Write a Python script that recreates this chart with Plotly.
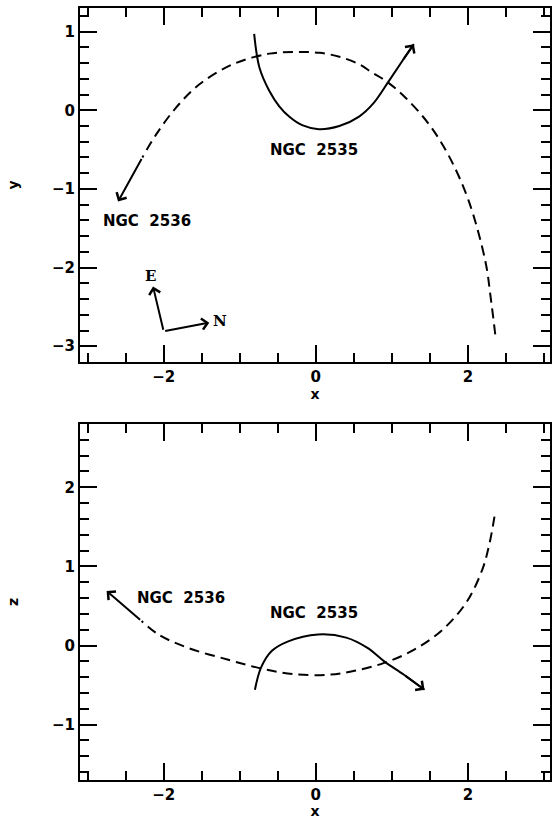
import plotly.graph_objects as go

# ---- orbit data (x, y) projection -------------------------------------------
n2535_xy_x = [-0.81, -0.74, -0.61, -0.48, -0.35, -0.18, 0.04, 0.31, 0.57, 0.76, 0.96, 1.14, 1.29]
n2535_xy_y = [0.97, 0.54, 0.245, 0.05, -0.08, -0.19, -0.24, -0.20, -0.08, 0.09, 0.37, 0.63, 0.84]

n2536_xy_x = [2.36, 2.30, 2.23, 2.01, 1.75, 1.49, 1.18, 0.94, 0.74, 0.57, 0.31, 0.05, -0.25,
              -0.61, -1.09, -1.53, -1.84, -2.10, -2.28]
n2536_xy_y = [-2.85, -2.38, -1.92, -1.15, -0.58, -0.18, 0.16, 0.36, 0.48, 0.585, 0.68, 0.73, 0.74,
              0.72, 0.585, 0.33, 0.03, -0.31, -0.60]

# ---- orbit data (x, z) projection -------------------------------------------
n2535_xz_x = [-0.80, -0.72, -0.58, -0.37, 0.03, 0.40, 0.68, 0.90, 1.16, 1.43]
n2535_xz_z = [-0.56, -0.28, -0.07, 0.05, 0.14, 0.10, -0.03, -0.20, -0.37, -0.56]

n2536_xz_x = [2.35, 2.28, 2.19, 1.99, 1.69, 1.30, 0.90, 0.51, 0.16, -0.30, -0.72, -1.15,
              -1.68, -2.07, -2.29]
n2536_xz_z = [1.63, 1.27, 0.96, 0.56, 0.22, -0.05, -0.22, -0.32, -0.37, -0.36, -0.29, -0.18,
              -0.03, 0.14, 0.31]

# final solid leg of NGC 2536 (tip) in each projection
n2536_xy_tip = (-2.60, -1.16)
n2536_xz_tip = (-2.75, 0.69)

# compass: origin, E tip, N tip
compass_origin = (-2.00, -2.81)
compass_e = (-2.14, -2.24)
compass_n = (-1.40, -2.70)

# labels
labels_xy = [("NGC\u00a0\u00a02535", -0.02, -0.50), ("NGC\u00a0\u00a02536", -2.22, -1.41)]
labels_xz = [("NGC\u00a0\u00a02535", -0.02, 0.41), ("NGC\u00a0\u00a02536", -1.77, 0.60)]

FONT = "DejaVu Sans"
INK = "black"

fig = go.Figure()

dash = "10px,6px"
fig.add_trace(go.Scatter(x=n2535_xy_x, y=n2535_xy_y, mode="lines", line=dict(color=INK, width=2, shape="spline"),
                         xaxis="x", yaxis="y"))
fig.add_trace(go.Scatter(x=n2536_xy_x, y=n2536_xy_y, mode="lines",
                         line=dict(color=INK, width=2, shape="spline", dash=dash), xaxis="x", yaxis="y"))
fig.add_trace(go.Scatter(x=n2535_xz_x, y=n2535_xz_z, mode="lines", line=dict(color=INK, width=2, shape="spline"),
                         xaxis="x2", yaxis="y2"))
fig.add_trace(go.Scatter(x=n2536_xz_x, y=n2536_xz_z, mode="lines",
                         line=dict(color=INK, width=2, shape="spline", dash=dash), xaxis="x2", yaxis="y2"))

ann = []


def arrow(x0, y0, x1, y1, xr, yr):
    ann.append(dict(x=x1, y=y1, ax=x0, ay=y0, xref=xr, yref=yr, axref=xr, ayref=yr,
                    text="", showarrow=True, arrowhead=4, arrowsize=1.1, arrowwidth=2,
                    arrowcolor=INK, standoff=0, startstandoff=0))


# arrowheads at the end of the NGC 2535 orbits
arrow(n2535_xy_x[-2], n2535_xy_y[-2], n2535_xy_x[-1], n2535_xy_y[-1], "x", "y")
arrow(n2535_xz_x[-2], n2535_xz_z[-2], n2535_xz_x[-1], n2535_xz_z[-1], "x2", "y2")
# solid final leg of NGC 2536
arrow(n2536_xy_x[-1], n2536_xy_y[-1], n2536_xy_tip[0], n2536_xy_tip[1], "x", "y")
arrow(n2536_xz_x[-1], n2536_xz_z[-1], n2536_xz_tip[0], n2536_xz_tip[1], "x2", "y2")
# compass
arrow(compass_origin[0], compass_origin[1], compass_e[0], compass_e[1], "x", "y")
arrow(compass_origin[0], compass_origin[1], compass_n[0], compass_n[1], "x", "y")

ann.append(dict(x=compass_e[0] - 0.03, y=compass_e[1] + 0.13, xref="x", yref="y", text="<b>E</b>",
                showarrow=False, font=dict(family="DejaVu Serif", size=15, color=INK)))
ann.append(dict(x=compass_n[0] + 0.14, y=compass_n[1] + 0.02, xref="x", yref="y", text="<b>N</b>",
                showarrow=False, font=dict(family="DejaVu Serif", size=15, color=INK)))

for t, x, y in labels_xy:
    ann.append(dict(x=x, y=y, xref="x", yref="y", text=f"<b>{t}</b>", showarrow=False,
                    font=dict(family=FONT, size=15, color=INK)))
for t, x, y in labels_xz:
    ann.append(dict(x=x, y=y, xref="x2", yref="y2", text=f"<b>{t}</b>", showarrow=False,
                    font=dict(family=FONT, size=15, color=INK)))

tickfont = dict(family=FONT, size=15, color=INK, weight="bold")
titlefont = dict(family=FONT, size=14, color=INK, weight="bold")


def xaxis(anchor):
    return dict(range=[-3.1, 3.08], dtick=2, tick0=0, ticks="inside", ticklen=17, tickwidth=2,
                tickcolor=INK, showline=True, linewidth=2, linecolor=INK, mirror="ticks",
                showgrid=False, zeroline=False, tickfont=tickfont, anchor=anchor,
                title=dict(text="x", font=titlefont, standoff=2),
                minor=dict(ticks="inside", ticklen=9, tickwidth=2, dtick=0.5, tick0=0, tickcolor=INK,
                           showgrid=False))


def yaxis(rng, dom, anchor, name):
    return dict(range=rng, domain=dom, dtick=1, tick0=0, ticks="inside", ticklen=17, tickwidth=2,
                tickcolor=INK, showline=True, linewidth=2, linecolor=INK, mirror="ticks",
                showgrid=False, zeroline=False, tickfont=tickfont, anchor=anchor,
                title=dict(text=name, font=titlefont, standoff=30),
                minor=dict(ticks="inside", ticklen=9, tickwidth=2, dtick=0.2, tick0=0, tickcolor=INK,
                           showgrid=False))


fig.update_layout(
    width=553, height=819,
    margin=dict(l=80, r=1, t=8, b=39),
    paper_bgcolor="white", plot_bgcolor="white",
    showlegend=False,
    xaxis=xaxis("y"),
    yaxis=yaxis([-3.2, 1.3], [0.5415, 1.0], "x", "y"),
    xaxis2=xaxis("y2"),
    yaxis2=yaxis([-1.7, 2.8], [0.0, 0.4611], "x2", "z"),
    annotations=ann,
)

fig.write_html("out.html")
